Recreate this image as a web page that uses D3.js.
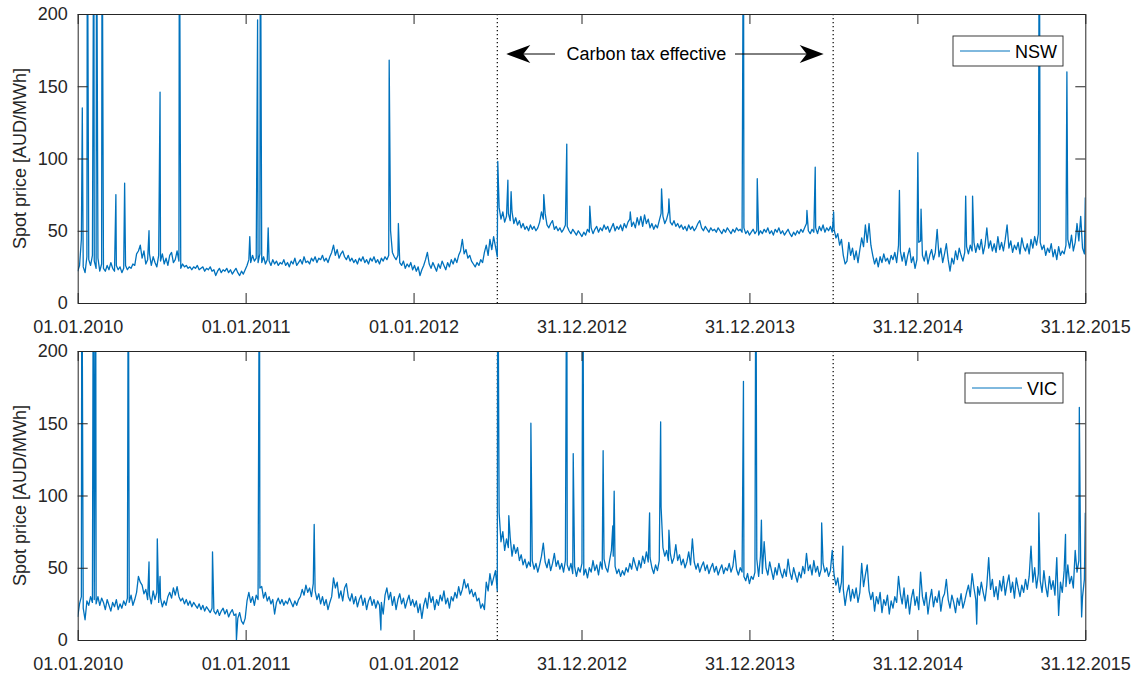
<!DOCTYPE html>
<html>
<head>
<meta charset="utf-8">
<script src="https://cdn.jsdelivr.net/npm/d3@7"></script>
<style>
  body { margin: 0; background: #fff; }
  svg { display: block; font-family: "Liberation Sans", Arial, Helvetica, sans-serif; }
</style>
</head>
<body>
<svg id="chart" width="1136" height="675"></svg>
<script>
// Daily spot prices, every 4 days starting 01.01.2010
const sampleStep = 4;
const startDay = "2010-01-01";
const endDay = "2015-12-31";

const nswPrice = [
  // 2010
  22,26,44,25,21,32,30,26,33,29, 24,31,22,27,24,22,26,23,28,24, 22,26,23,25,21,24,26,23,25,24,
  27,26,34,36,40,31,36,27,30,34, 26,32,28,25,33,29,34,27,31,26, 33,35,28,30,36,29,24,27,25,26,
  24,25,23,25,24,26,23,24,25,22, 24,23,25,22,23,19,22,24,21,23, 22,24,21,23,20,22,24,21,19,22, 20,23,
  // 2011
  26,30,28,33,29,31,28,34,28,32, 27,30,29,26,30,27,29,26,28,27, 30,26,28,25,29,27,31,26,28,30,
  27,32,28,29,27,31,29,32,28,31, 30,33,29,31,28,32,35,40,33,37, 31,34,36,32,30,33,29,31,28,30,
  27,31,29,32,28,30,27,31,29,32, 28,30,27,31,29,32,30,33,50,35, 32,30,33,28,26,29,24,27,25,28,23,
  // 2012
  26,22,25,19,23,26,30,35,27,24, 28,25,22,27,24,29,26,23,28,25, 30,27,31,28,33,36,44,34,37,31,
  33,29,27,25,28,26,30,28,35,40, 33,44,37,46,39,32,66,58,63,56, 60,62,57,63,55,59,54,57,52,55,
  51,53,50,54,51,53,50,52,56,63, 58,62,54,52,55,57,51,53,50,52, 49,51,54,53,50,48,51,49,47,50,48,
  // 2013
  46,49,47,51,49,52,48,51,53,49, 52,50,54,51,53,49,52,55,50,53, 51,54,50,55,52,56,58,53,56,52,
  59,54,60,53,61,55,58,52,55,51, 54,52,57,62,60,55,58,63,56,54, 57,53,55,52,54,51,53,50,54,51,
  53,50,52,55,57,52,50,53,51,49, 52,50,51,49,52,50,48,51,49,52, 50,48,51,49,52,50,51,49,52,48, 50,47,
  // 2014
  49,51,48,50,47,50,48,51,49,52, 48,50,47,51,49,52,48,50,47,49, 51,48,46,49,47,50,48,51,49,52,
  55,50,48,51,49,52,48,53,50,54, 49,52,50,53,49,51,45,48,40,44, 33,27,29,42,33,38,30,36,28,37,
  45,39,54,42,55,40,33,27,31,25, 32,28,34,29,31,27,33,30,35,28, 40,36,29,35,26,33,38,28,32,24,30,
  // 2015
  42,43,33,29,36,27,33,37,30,35, 51,32,38,28,34,41,30,22,31,27, 36,30,38,33,29,35,39,34,40,36,
  42,35,41,37,44,34,40,52,38,43, 36,41,35,46,37,42,36,44,54,38, 43,35,40,37,42,34,45,39,36,41,
  34,44,38,46,40,48,42,37,40,33, 38,35,41,32,37,30,39,33,36,34, 40,44,38,47,36,42,55,43,60,38,34
];

const vicPrice = [
  // 2010
  16,25,30,22,14,27,24,30,26,28, 25,30,24,29,26,21,28,24,20,26, 23,28,21,25,22,27,24,29,26,31,
  24,28,33,44,40,38,32,35,28,31, 25,34,28,33,26,29,23,27,24,30, 33,29,36,31,37,30,27,29,25,28,
  24,27,23,26,24,22,25,21,24,20, 23,21,19,22,20,18,21,17,20,22, 18,21,16,19,21,17,18,15,19,13, 11,15,
  // 2011
  27,33,26,30,24,31,28,36,37,29, 33,27,30,25,28,18,26,29,25,28, 24,27,25,29,26,23,27,24,28,30,
  35,31,38,33,36,30,39,34,28,32, 25,30,24,28,21,26,30,43,36,40, 29,34,27,36,39,30,27,32,25,30,
  23,28,31,24,29,21,27,30,24,28, 22,27,24,26,18,31,36,28,33,24, 30,21,28,32,25,29,22,27,31,24,28,
  // 2012
  23,27,19,25,15,24,29,22,33,26, 30,21,28,24,31,27,34,25,29,22, 30,27,33,29,37,31,35,42,36,39,
  32,35,30,33,27,29,22,25,21,40, 34,46,38,43,48,34,88,68,75,62, 70,64,71,58,66,60,64,55,59,52,
  56,50,54,51,55,49,53,47,52,58, 67,54,50,56,48,53,60,51,55,49, 53,47,55,52,48,53,46,51,44,50,47,
  // 2013
  53,45,49,43,50,47,55,48,52,45, 54,49,56,50,47,55,62,58,51,46, 49,44,48,45,50,47,53,49,57,52,
  48,55,50,58,53,61,54,57,50,46, 52,48,55,92,64,58,62,55,60,53, 57,66,55,59,52,56,50,54,61,52,
  70,54,49,53,47,51,54,48,52,46, 50,53,47,51,45,49,52,46,50,48, 53,47,51,62,49,45,50,47,44,41, 46,39,
  // 2014
  44,42,47,56,44,58,46,68,50,45, 54,48,42,50,45,53,47,43,49,44, 56,47,42,50,45,40,47,43,51,46,
  60,48,52,45,55,47,51,44,49,53, 47,50,44,48,62,45,38,43,33,40, 35,24,33,38,27,35,29,36,26,33,
  53,37,45,52,34,28,33,20,30,25, 33,19,28,24,31,18,27,22,30,26, 44,32,25,36,22,31,18,29,35,24,30,
  // 2015
  21,47,30,24,33,18,28,35,23,30, 26,34,20,29,32,42,28,22,31,26, 19,29,24,32,22,27,33,38,30,46,
  36,28,37,31,40,33,27,38,57,35, 42,30,37,28,41,34,44,31,39,45, 33,40,29,43,36,30,38,33,42,35,
  44,65,40,50,36,46,41,33,48,37, 30,44,35,41,31,57,17,40,33,48, 37,52,39,44,36,62,47,55,49,30,42
];

// single-day peaks and dips: [days since 01.01.2010, price]
const nswSpikes = [
  [10,135],[21,300],[35,300],[41,300],[53,300],[83,75],[102,83],[155,50],[179,146],[221,300],
  [374,46],[391,196],[397,300],[414,52],[677,168],[697,55],[913,98],[935,85],[942,77],[1013,75],
  [1063,110],[1113,67],[1201,63],[1269,79],[1285,72],[1447,300],[1477,86],[1585,64],[1603,94],
  [1643,63],[1786,78],[1826,104],[1833,65],[1930,74],[1945,74],[2090,300],[2150,160],[2190,73]
];
const vicSpikes = [
  [9,300],[34,300],[39,300],[110,300],[155,54],[173,70],[179,44],[293,61],[345,0],[395,300],
  [514,80],[659,7],[913,300],[937,86],[985,150],[1063,300],[1077,129],[1098,300],[1142,131],
  [1163,79],[1166,103],[1243,88],[1267,151],[1285,76],[1447,179],[1474,300],[1486,83],[1617,81],
  [1663,65],[1954,11],[2089,88],[2147,73],[2177,161],[2182,16],[2190,88]
];

const tickDates = ["2010-01-01", "2011-01-01", "2012-01-01", "2012-12-31", "2013-12-31", "2014-12-31", "2015-12-31"];
const tickLabels = ["01.01.2010", "01.01.2011", "01.01.2012", "31.12.2012", "31.12.2013", "31.12.2014", "31.12.2015"];
const yTicks = [0, 50, 100, 150, 200];
const taxPeriod = ["2012-07-01", "2014-07-01"];

const parse = d3.timeParse("%Y-%m-%d");
const start = parse(startDay);

const toSeries = (values, spikes) => values
  .map((v, i) => ({ date: d3.timeDay.offset(start, i * sampleStep), v }))
  .concat(spikes.map(([d, v]) => ({ date: d3.timeDay.offset(start, d), v })))
  .sort((a, b) => a.date - b.date);

const svg = d3.select("#chart");
const axisColor = "#262626";
const lineColor = "#0072BD";
const fontSize = 18;

const x = d3.scaleTime()
  .domain([parse(startDay), parse(endDay)])
  .range([77.7, 1085.3]);

const panels = [
  { name: "NSW", series: toSeries(nswPrice, nswSpikes), top: 14, bottom: 303, legendX: 953, legendY: 36, legendW: 110 },
  { name: "VIC", series: toSeries(vicPrice, vicSpikes), top: 351, bottom: 640, legendX: 965, legendY: 373, legendW: 98 }
];

const styleAxis = g => {
  g.selectAll(".domain, .tick line").attr("stroke", axisColor).attr("stroke-width", 1);
  g.selectAll("text").attr("fill", axisColor);
  g.attr("font-size", fontSize).attr("font-family", null);
};

panels.forEach((p, i) => {
  const y = d3.scaleLinear().domain([0, 200]).range([p.bottom, p.top]);
  const g = svg.append("g");

  g.append("clipPath").attr("id", "clip" + i)
    .append("rect")
    .attr("x", x.range()[0]).attr("y", p.top)
    .attr("width", x.range()[1] - x.range()[0])
    .attr("height", p.bottom - p.top);

  // carbon tax period markers
  taxPeriod.forEach(d => {
    g.append("line")
      .attr("x1", x(parse(d))).attr("x2", x(parse(d)))
      .attr("y1", p.top).attr("y2", p.bottom)
      .attr("stroke", "#000")
      .attr("stroke-width", 1.2)
      .attr("stroke-dasharray", "1.2,2.8");
  });

  const line = d3.line()
    .x(d => x(d.date))
    .y(d => y(d.v));

  g.append("path")
    .datum(p.series)
    .attr("clip-path", `url(#clip${i})`)
    .attr("fill", "none")
    .attr("stroke", lineColor)
    .attr("stroke-width", 1.3)
    .attr("stroke-linejoin", "round")
    .attr("d", line);

  // axes: ticks inside, labels on bottom and left
  g.append("g")
    .attr("transform", `translate(0,${p.bottom})`)
    .call(d3.axisBottom(x)
      .tickValues(tickDates.map(parse))
      .tickFormat((d, k) => tickLabels[k])
      .tickSizeInner(-10).tickSizeOuter(0).tickPadding(17))
    .call(styleAxis);

  g.append("g")
    .attr("transform", `translate(0,${p.top})`)
    .call(d3.axisTop(x)
      .tickValues(tickDates.map(parse))
      .tickFormat("")
      .tickSizeInner(-10).tickSizeOuter(0))
    .call(styleAxis);

  g.append("g")
    .attr("transform", `translate(${x.range()[0]},0)`)
    .call(d3.axisLeft(y)
      .tickValues(yTicks)
      .tickSizeInner(-10).tickSizeOuter(0).tickPadding(10))
    .call(styleAxis);

  g.append("g")
    .attr("transform", `translate(${x.range()[1]},0)`)
    .call(d3.axisRight(y)
      .tickValues(yTicks)
      .tickFormat("")
      .tickSizeInner(-10).tickSizeOuter(0))
    .call(styleAxis);

  g.append("text")
    .attr("transform", `translate(25.5,${(p.top + p.bottom) / 2}) rotate(-90)`)
    .attr("text-anchor", "middle")
    .attr("font-size", fontSize)
    .attr("fill", axisColor)
    .text("Spot price [AUD/MWh]");

  // legend
  const lg = g.append("g").attr("transform", `translate(${p.legendX},${p.legendY})`);
  lg.append("rect")
    .attr("width", p.legendW).attr("height", 30)
    .attr("fill", "#fff")
    .attr("stroke", axisColor).attr("stroke-width", 0.9);
  lg.append("line")
    .attr("x1", 7).attr("x2", 57).attr("y1", 15).attr("y2", 15)
    .attr("stroke", lineColor).attr("stroke-width", 1);
  lg.append("text")
    .attr("x", 62).attr("y", 21.5)
    .attr("font-size", fontSize)
    .attr("fill", "#000")
    .text(p.name);
});

// annotation in the upper panel
const arrowY = 54;
const arrow = (tail, tip) => {
  const dir = Math.sign(tip - tail);
  svg.append("line")
    .attr("x1", tail).attr("x2", tip - dir * 16)
    .attr("y1", arrowY).attr("y2", arrowY)
    .attr("stroke", "#000").attr("stroke-width", 1);
  svg.append("path")
    .attr("d", `M${tip},${arrowY} L${tip - dir * 24},${arrowY - 9} L${tip - dir * 17},${arrowY} L${tip - dir * 24},${arrowY + 9} Z`)
    .attr("fill", "#000");
};
arrow(555, x(parse(taxPeriod[0])) + 9);
arrow(735, x(parse(taxPeriod[1])) - 9.5);

svg.append("text")
  .attr("x", 646.5).attr("y", 59.5)
  .attr("text-anchor", "middle")
  .attr("font-size", fontSize)
  .attr("fill", "#000")
  .text("Carbon tax effective");
</script>
</body>
</html>
